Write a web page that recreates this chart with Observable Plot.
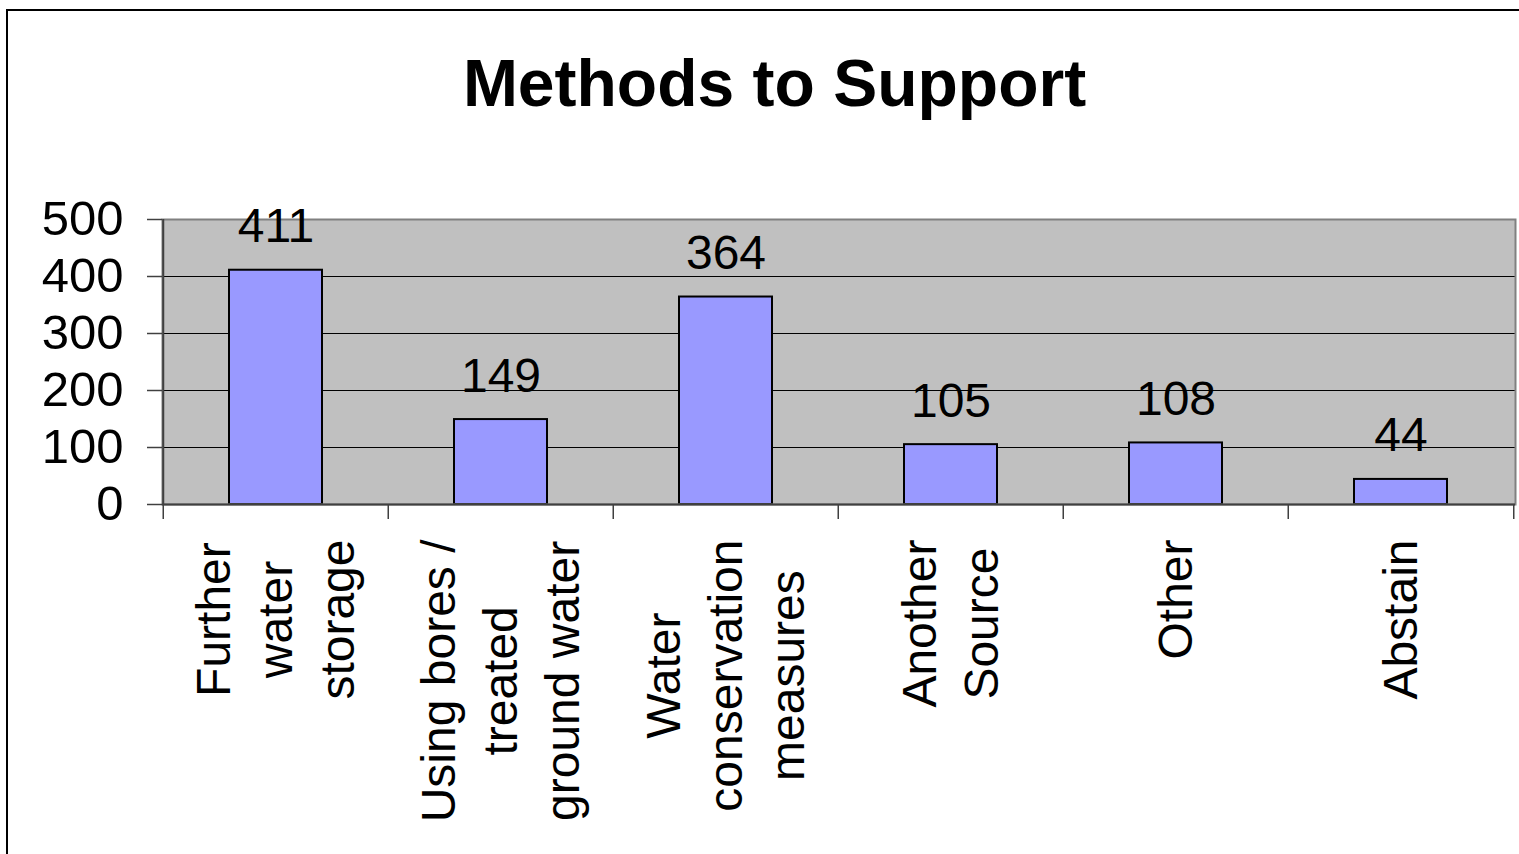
<!DOCTYPE html>
<html>
<head>
<meta charset="utf-8">
<script src="https://cdn.jsdelivr.net/npm/d3@7"></script>
<script src="https://cdn.jsdelivr.net/npm/@observablehq/plot@0.6"></script>
<style>
  html, body { margin: 0; padding: 0; background: #fff; overflow: hidden; width: 1519px; height: 854px; }
  body { position: relative; font-family: "Liberation Sans", Arial, sans-serif; }
  #border { position: absolute; left: 6px; top: 9px; width: 1600px; height: 900px; border: 2px solid #000; box-sizing: border-box; }
  #title { position: relative; height: 150px; box-sizing: border-box; padding-top: 51px; line-height: 64px;
           font-size: 66px; font-weight: bold; text-align: center; width: 1549px; color: #000; }
  #chart { position: relative; }
</style>
</head>
<body>
<div id="border"></div>
<div id="title">Methods to Support</div>
<div id="chart"></div>
<script>
const categories = ["Further water storage", "Using bores / treated ground water", "Water conservation measures", "Another Source", "Other", "Abstain"];
const labelLines = [["Further", "water", "storage"], ["Using bores /", "treated", "ground water"], ["Water", "conservation", "measures"], ["Another", "Source"], ["Other"], ["Abstain"]];
const values = [411, 149, 364, 105, 108, 44];
const yTicks = [0, 100, 200, 300, 400, 500];
const gridValues = [100, 200, 300, 400];

const data = categories.map((c, i) => ({category: c, value: values[i], lines: labelLines[i]}));

const width = 1519, height = 704;
const marginLeft = 162, marginRight = 4, marginTop = 69, marginBottom = 350;
const step = (width - marginLeft - marginRight) / categories.length;
const font = '"Liberation Sans", Arial, sans-serif';
const labelSize = 48;

const ctx = document.createElement("canvas").getContext("2d");
ctx.font = `${labelSize}px "Liberation Sans"`;
const maxLineWidth = lines => Math.max(...lines.map(l => ctx.measureText(l).width));

const labelMarks = data.map(d => Plot.text([d], {
  x: "category",
  text: e => e.lines.join("\n"),
  frameAnchor: "bottom",
  rotate: -90,
  textAnchor: "middle",
  lineAnchor: "middle",
  lineHeight: 1.3,
  fontSize: labelSize,
  fill: "#000",
  dx: -4,
  dy: 35 + maxLineWidth(d.lines) / 2
}));

const chart = Plot.plot({
  width, height, marginLeft, marginRight, marginTop, marginBottom,
  style: {background: "transparent", color: "#000", fontFamily: font},
  x: {type: "band", domain: categories, paddingInner: 0.585, paddingOuter: 0.2925, axis: null},
  y: {domain: [0, 500], axis: null},
  marks: [
    Plot.frame({fill: "#C0C0C0", stroke: null}),
    Plot.ruleY(gridValues, {stroke: "#000", strokeWidth: 1.2}),
    Plot.barY(data, {x: "category", y: "value", fill: "#9999FF", stroke: "#000", strokeWidth: 2}),
    Plot.frame({stroke: "#808080", strokeWidth: 2}),
    Plot.ruleY([0], {stroke: "#404040", strokeWidth: 2}),
    Plot.ruleX([categories[0]], {y1: 0, y2: 500, dx: -step / 2, stroke: "#404040", strokeWidth: 2}),
    Plot.ruleX(categories, {y1: 0, y2: 0, insetBottom: -15, dx: -step / 2, stroke: "#404040", strokeWidth: 1.5}),
    Plot.ruleX([categories[categories.length - 1]], {y1: 0, y2: 0, insetBottom: -15, dx: step / 2, stroke: "#404040", strokeWidth: 1.5}),
    Plot.axisY({ticks: yTicks, tickSize: 15, tickPadding: 24, fontSize: 49, stroke: "#404040", strokeWidth: 1.5, label: null, tickFormat: d => String(d)}),
    Plot.text(data, {x: "category", y: "value", text: d => String(d.value), lineAnchor: "bottom", dy: -28, fontSize: labelSize, fill: "#000"}),
    ...labelMarks
  ]
});
document.getElementById("chart").appendChild(chart);
</script>
</body>
</html>
